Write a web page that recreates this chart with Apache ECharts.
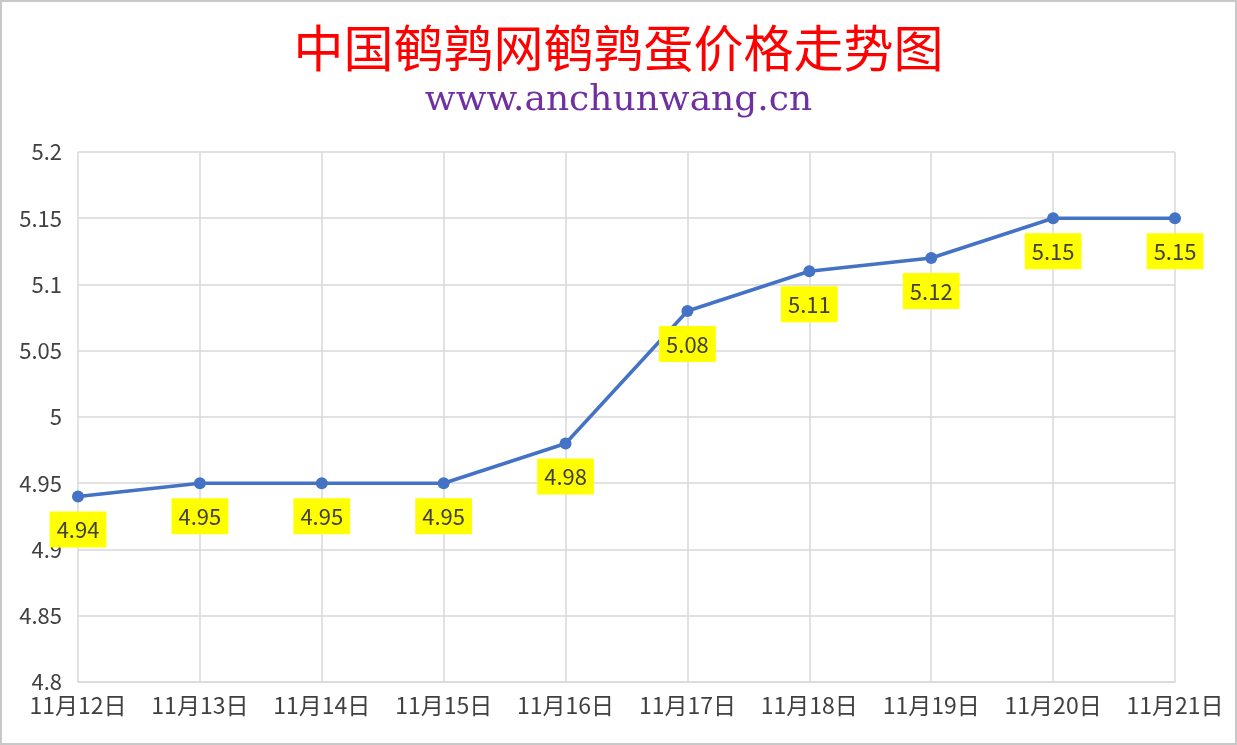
<!DOCTYPE html>
<html>
<head>
<meta charset="utf-8">
<script src="https://cdn.jsdelivr.net/npm/echarts@6/dist/echarts.min.js"></script>
<style>
html,body{margin:0;padding:0;background:#fff;}
#chart{width:1237px;height:745px;}
</style>
</head>
<body>
<div id="chart"></div>
<script>
const categories = ['11月12日','11月13日','11月14日','11月15日','11月16日','11月17日','11月18日','11月19日','11月20日','11月21日'];
const prices = [4.94, 4.95, 4.95, 4.95, 4.98, 5.08, 5.11, 5.12, 5.15, 5.15];
const titleText = '中国鹌鹑网鹌鹑蛋价格走势图';
const subtitleText = 'www.anchunwang.cn';

const chart = echarts.init(document.getElementById('chart'));
chart.setOption({
  backgroundColor: '#fff',
  animation: false,
  title: [
    { text: titleText, left: 'center', top: 18,
      textStyle: { fontFamily: 'Noto Sans CJK SC', fontSize: 50, fontWeight: 'normal', color: '#FF0000' } },
    { text: subtitleText, left: 'center', top: 78,
      textStyle: { fontFamily: 'DejaVu Serif', fontSize: 36, fontWeight: 'normal', color: '#7030A0' } }
  ],
  graphic: [{
    type: 'rect', z: -10, silent: true,
    shape: { x: 1, y: 1, width: 1235, height: 743 },
    style: { fill: 'none', stroke: '#c8c8c8', lineWidth: 2 }
  }],
  grid: { left: 78, right: 62, top: 152, bottom: 63, containLabel: false },
  xAxis: {
    type: 'category', data: categories, boundaryGap: false,
    axisLine: { lineStyle: { color: '#d9d9d9', width: 1.5 } },
    axisTick: { show: false },
    splitLine: { show: true, interval: 0, lineStyle: { color: '#d9d9d9', width: 1.5 } },
    axisLabel: { interval: 0, hideOverlap: false, color: '#404040', fontSize: 23, fontFamily: 'Noto Sans CJK SC', margin: 12 }
  },
  yAxis: {
    type: 'value', min: 4.8, max: 5.2, interval: 0.05,
    axisLine: { show: false }, axisTick: { show: false },
    splitLine: { lineStyle: { color: '#d9d9d9', width: 1.5 } },
    axisLabel: { color: '#404040', fontSize: 22, fontFamily: 'Noto Sans CJK SC', margin: 16,
      formatter: v => String(parseFloat(v.toFixed(2))) }
  },
  series: [{
    type: 'line', data: prices,
    symbol: 'circle', symbolSize: 12,
    lineStyle: { color: '#4472C4', width: 3.5 },
    itemStyle: { color: '#4472C4' },
    label: {
      show: true, position: 'bottom', distance: 9,
      color: '#404040', fontSize: 22, fontFamily: 'Noto Sans CJK SC',
      backgroundColor: '#FFFF00', padding: [5, 7, 4, 7], lineHeight: 27
    }
  }]
});
</script>
</body>
</html>
